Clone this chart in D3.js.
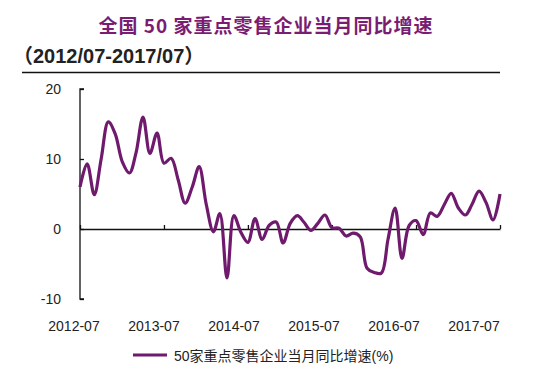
<!DOCTYPE html>
<html>
<head>
<meta charset="utf-8">
<script src="https://cdn.jsdelivr.net/npm/d3@7"></script>
<style>
  body { margin: 0; background: #fff; }
  text { font-family: "Liberation Sans", Arial, "Noto Sans CJK SC", sans-serif; }
</style>
</head>
<body>
<script>
// 月度数据: 2012-07 ~ 2017-07
var startMonth = new Date(2012, 6, 1);
var growth = [
  6.0, 9.3, 4.9, 10.0, 15.3, 13.6, 9.6, 8.0, 10.8, 16.0, 10.8, 13.7,
  9.4, 10.1, 7.0, 3.7, 6.0, 8.9, 3.5, -0.4, 2.2, -7.0, 1.9, -0.5,
  -1.9, 1.5, -1.5, 0.5, 1.0, -2.0, 0.8, 1.9, 1.0, -0.2, 0.8, 2.0,
  0.2, 0.1, -1.0, -0.6, -1.1, -5.6, -6.2, -6.3, -1.5, 3.0, -4.2, 0.5,
  1.2, -0.8, 2.3, 1.8, 3.5, 5.1, 3.0, 2.0, 3.5, 5.4, 3.8, 1.3,
  5.0
];
var xLabels = ['2012-07', '2013-07', '2014-07', '2015-07', '2016-07', '2017-07'];
var yTicks = [-10, 0, 10, 20];

var titleText = '全国 50 家重点零售企业当月同比增速';
var subTitle = '（2012/07-2017/07）';
var legendText = '50家重点零售企业当月同比增速(%)';

var W = 551, H = 374;
var lineColor = '#6f1a6c';

var svg = d3.select(document.body)
  .append('svg')
  .attr('width', W)
  .attr('height', H);

var data = growth.map(function(v, i){
  return { date: d3.timeMonth.offset(startMonth, i), value: v };
});

var x = d3.scaleTime()
  .domain([startMonth, d3.timeMonth.offset(startMonth, growth.length - 1)])
  .range([80, 500]);
var y = d3.scaleLinear().domain([-10, 20]).range([299, 89]);

// 标题
svg.append('text')
  .attr('x', 266).attr('y', 33)
  .attr('text-anchor', 'middle')
  .style('font-family', '"Noto Sans CJK SC", sans-serif')
  .style('font-size', '19px')
  .style('font-weight', 'bold')
  .style('letter-spacing', '1px')
  .style('fill', '#7a1d72')
  .text(titleText);

svg.append('text')
  .attr('x', 13).attr('y', 63)
  .style('font-family', '"Liberation Sans", "Noto Sans CJK SC", sans-serif')
  .style('font-size', '20px')
  .style('font-weight', 'bold')
  .style('fill', '#222')
  .text(subTitle);

svg.append('line')
  .attr('x1', 22).attr('x2', 500)
  .attr('y1', 72.5).attr('y2', 72.5)
  .attr('stroke', '#111').attr('stroke-width', 1.3);

// y 轴
var yAxis = svg.append('g')
  .attr('transform', 'translate(80,0)')
  .call(d3.axisRight(y).tickValues(yTicks).tickSize(4).tickFormat(''));
yAxis.select('.domain').attr('d', 'M4,' + y(20) + 'H0V' + y(-10) + 'H4');
yAxis.selectAll('line, path').attr('stroke', '#111').attr('stroke-width', 1.3);

svg.selectAll('.ylab')
  .data(yTicks)
  .enter()
  .append('text')
  .attr('class', 'ylab')
  .attr('x', 61)
  .attr('y', function(d){ return y(d) + 5; })
  .attr('text-anchor', 'end')
  .style('font-size', '14px')
  .style('fill', '#222')
  .text(function(d){ return d; });

// x 轴 (0 线)
var yearTicks = xLabels.map(function(s){
  var p = s.split('-');
  return new Date(+p[0], +p[1] - 1, 1);
});
var xAxis = svg.append('g')
  .attr('transform', 'translate(0,' + y(0) + ')')
  .call(d3.axisTop(x).tickValues(yearTicks).tickSize(4).tickSizeOuter(0).tickFormat(''));
xAxis.selectAll('line, path').attr('stroke', '#111').attr('stroke-width', 1.3);

var xl = d3.scalePoint().domain(xLabels).range([74, 474]);
svg.selectAll('.xlab')
  .data(xLabels)
  .enter()
  .append('text')
  .attr('class', 'xlab')
  .attr('x', function(d){ return xl(d); })
  .attr('y', 331)
  .attr('text-anchor', 'middle')
  .style('font-size', '14px')
  .style('fill', '#222')
  .text(function(d){ return d; });

// 折线
var line = d3.line()
  .x(function(d){ return x(d.date); })
  .y(function(d){ return y(d.value); })
  .curve(d3.curveCatmullRom.alpha(0.5));

svg.append('path')
  .datum(data)
  .attr('d', line)
  .attr('fill', 'none')
  .attr('stroke', lineColor)
  .attr('stroke-width', 3.2)
  .attr('stroke-linejoin', 'round');

// 图例
svg.append('line')
  .attr('x1', 133).attr('x2', 167)
  .attr('y1', 355).attr('y2', 355)
  .attr('stroke', lineColor).attr('stroke-width', 3);

svg.append('text')
  .attr('x', 174).attr('y', 361)
  .style('font-size', '14px')
  .style('fill', '#222')
  .text(legendText);
</script>
</body>
</html>
